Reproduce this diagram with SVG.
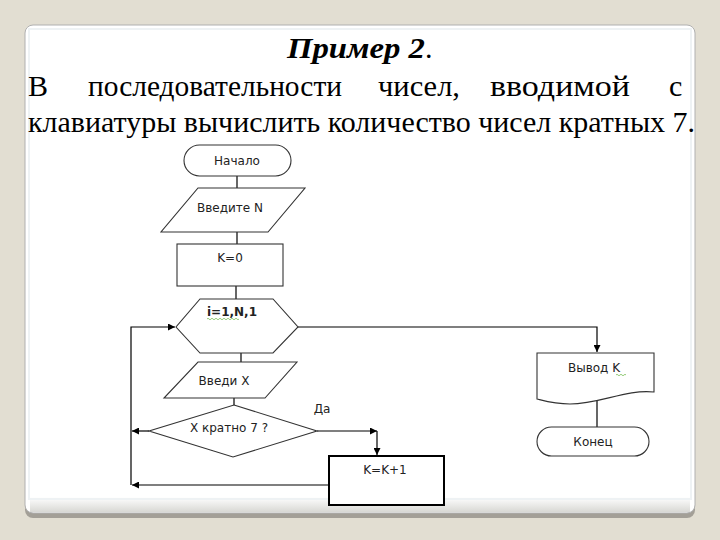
<svg xmlns="http://www.w3.org/2000/svg" width="720" height="540" viewBox="0 0 720 540">
<defs>
<marker id="ah" viewBox="0 0 10 10" refX="10" refY="5" markerWidth="8" markerHeight="7" markerUnits="userSpaceOnUse" orient="auto">
<path d="M0,0 L10,5 L0,10 Z" fill="#000"/>
</marker>
<linearGradient id="sh" x1="0" y1="0" x2="0" y2="1">
<stop offset="0" stop-color="#ffffff"/>
<stop offset="1" stop-color="#d8d8d4"/>
</linearGradient>
</defs>
<style>
.sh{fill:#fff;stroke:#333;stroke-width:1.1}
.t{font-family:"DejaVu Sans",Verdana,sans-serif;font-size:12px;fill:#222;text-anchor:middle}
.ser{font-family:"Liberation Serif","Times New Roman",serif;fill:#000}
.c{fill:none;stroke:#000;stroke-width:1.2}
</style>
<rect x="0" y="0" width="720" height="540" fill="#E2DED2"/>
<rect x="25" y="30" width="670" height="488" rx="8" fill="#A39F97"/>
<rect x="25" y="25" width="670" height="488" rx="8" fill="#fff" stroke="#b0b0b0" stroke-width="1"/>
<rect x="30" y="497" width="660" height="15" fill="url(#sh)"/>
<rect x="29" y="29" width="662" height="470" fill="none" stroke="#eef2f4" stroke-width="2"/>

<text class="ser" x="287" y="58" font-size="30"><tspan font-weight="bold" font-style="italic" textLength="138" lengthAdjust="spacingAndGlyphs">Пример 2</tspan><tspan>.</tspan></text>
<text class="ser" font-size="30" y="96"><tspan x="28">В</tspan><tspan x="88" textLength="254" lengthAdjust="spacingAndGlyphs">последовательности</tspan><tspan x="378" textLength="82" lengthAdjust="spacingAndGlyphs">чисел,</tspan><tspan x="490" textLength="140" lengthAdjust="spacingAndGlyphs">вводимой</tspan><tspan x="669">с</tspan></text>
<text class="ser" font-size="30" x="28" y="132" textLength="667" lengthAdjust="spacingAndGlyphs">клавиатуры вычислить количество чисел кратных 7.</text>

<g id="connectors">
<path class="c" d="M237,176 V188"/>
<path class="c" d="M237,232 V244"/>
<path class="c" d="M236,286 V299"/>
<path class="c" d="M241,353 V362"/>
<path class="c" d="M234,398 V405"/>
<path class="c" d="M298,327 H597 V352" marker-end="url(#ah)"/>
<path class="c" d="M597,401 V427"/>
<path class="c" d="M317,431 H377" marker-end="url(#ah)"/>
<path class="c" d="M377,431 V455" marker-end="url(#ah)"/>
<path class="c" d="M149,431 H132" marker-end="url(#ah)"/>
<path class="c" d="M329,485 H132" marker-end="url(#ah)"/>
<path class="c" d="M131,485 V327 H175" marker-end="url(#ah)"/>
</g>

<g id="start">
<rect class="sh" x="184" y="145" width="107" height="31" rx="15.5"/>
<text class="t" x="237" y="165">Начало</text>
</g>
<g id="inputN">
<polygon class="sh" points="198,188 305,188 268,232 161,232"/>
<text class="t" x="230" y="212" font-size="11">Введите N</text>
</g>
<g id="k0">
<rect class="sh" x="177" y="244" width="106" height="42"/>
<text class="t" x="230" y="262">K=0</text>
</g>
<g id="loop">
<polygon class="sh" points="200,299 273,299 298,327 273,353 200,353 176,327"/>
<text class="t" x="232" y="316" font-weight="bold" font-size="11">i=1,N,1</text>
<path d="M207,319 q1,-1.5 2,0 t2,0 t2,0 t2,0 t2,0 t2,0 t2,0 t2,0 t2,0 t2,0 t2,0 t2,0 t2,0 t2,0 t2,0 t2,0" fill="none" stroke="#7bbf5a" stroke-width="0.8"/>
</g>
<g id="inputX">
<polygon class="sh" points="198,362 297,362 265,398 164,398"/>
<text class="t" x="224" y="385" font-size="11.5">Введи X</text>
</g>
<g id="cond">
<polygon class="sh" points="234,405 317,431 233,457 149,431"/>
<text class="t" x="229" y="432" font-size="11.5">X кратно 7 ?</text>
</g>
<text class="t" x="322" y="413" font-size="11">Да</text>
<g id="inc">
<rect x="329" y="456" width="115" height="49" fill="#fff" stroke="#000" stroke-width="2"/>
<text class="t" x="385" y="474">K=K+1</text>
</g>
<g id="output">
<path class="sh" d="M537,353 H654 V392 C626,389 600,404 570,404 C555,404 545,401 537,399 Z"/>
<text class="t" x="594" y="372">Вывод K</text>
<path d="M616,375 q1,-1.5 2,0 t2,0 t2,0 t2,0 t2,0" fill="none" stroke="#7bbf5a" stroke-width="0.8"/>
</g>
<g id="end">
<rect class="sh" x="537" y="427" width="112" height="29" rx="14.5"/>
<text class="t" x="593" y="446">Конец</text>
</g>
</svg>
